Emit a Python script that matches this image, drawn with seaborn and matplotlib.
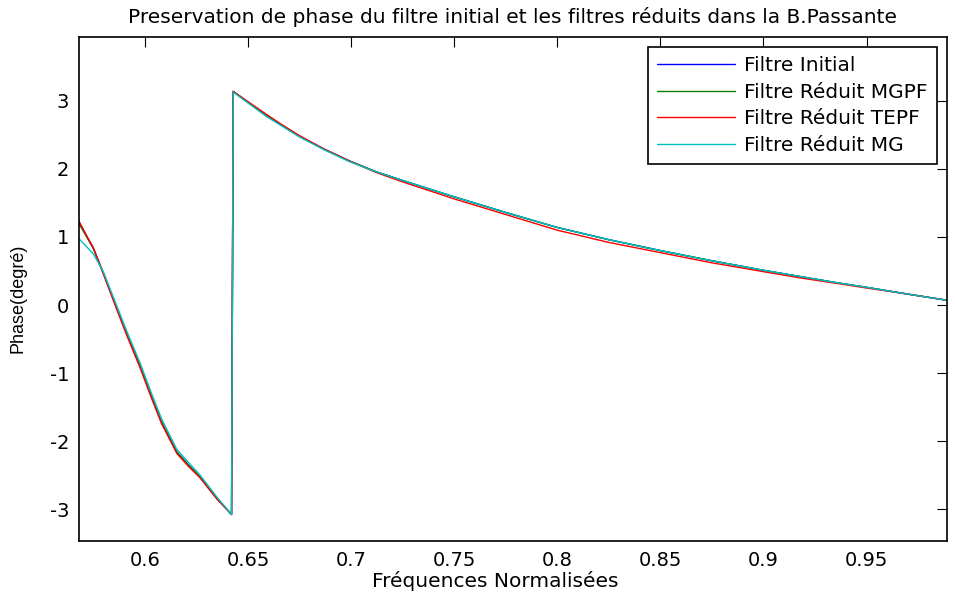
import matplotlib
matplotlib.use("Agg")
import matplotlib.pyplot as plt
import seaborn as sns
import pandas as pd

# ---- data ----
freq = [0.5675, 0.571, 0.575, 0.5798, 0.5855, 0.5911, 0.5976, 0.6032, 0.608, 0.6154,
        0.621, 0.6267, 0.6348, 0.642, 0.6428, 0.650, 0.659, 0.667, 0.675, 0.687,
        0.699, 0.712, 0.725, 0.75, 0.775, 0.80, 0.825, 0.85, 0.875, 0.90,
        0.9175, 0.935, 0.95, 0.97, 0.989]

phase_initial = [1.25, 1.05, 0.83, 0.47, 0.02, -0.42, -0.90, -1.35, -1.72, -2.16,
                 -2.35, -2.53, -2.84, -3.08, 3.14, 2.98, 2.79, 2.63, 2.48, 2.29,
                 2.12, 1.96, 1.83, 1.59, 1.36, 1.14, 0.96, 0.80, 0.65, 0.51,
                 0.42, 0.33, 0.26, 0.16, 0.07]

phase_mgpf = [1.22, 1.04, 0.83, 0.47, 0.02, -0.42, -0.90, -1.35, -1.72, -2.16,
              -2.35, -2.53, -2.84, -3.08, 3.14, 2.98, 2.79, 2.63, 2.48, 2.29,
              2.12, 1.96, 1.83, 1.59, 1.36, 1.14, 0.96, 0.80, 0.65, 0.51,
              0.42, 0.33, 0.26, 0.16, 0.07]

phase_tepf = [1.26, 1.06, 0.84, 0.46, 0.00, -0.44, -0.92, -1.37, -1.74, -2.18,
              -2.37, -2.54, -2.85, -3.08, 3.14, 2.99, 2.80, 2.64, 2.49, 2.29,
              2.12, 1.95, 1.81, 1.56, 1.33, 1.10, 0.92, 0.77, 0.62, 0.49,
              0.40, 0.32, 0.25, 0.16, 0.07]

phase_mg = [0.99, 0.88, 0.75, 0.49, 0.05, -0.38, -0.85, -1.30, -1.67, -2.12,
            -2.31, -2.50, -2.82, -3.08, 3.13, 2.97, 2.77, 2.62, 2.47, 2.28,
            2.11, 1.96, 1.83, 1.59, 1.36, 1.14, 0.96, 0.80, 0.65, 0.51,
            0.42, 0.33, 0.26, 0.16, 0.07]

labels = ["Filtre Initial", "Filtre Réduit MGPF", "Filtre Réduit TEPF", "Filtre Réduit MG"]
colors = ["#0000ff", "#008000", "#ff0000", "#00bfbf"]
xticks = [0.6, 0.65, 0.7, 0.75, 0.8, 0.85, 0.9, 0.95]
xtick_labels = ["0.6", "0.65", "0.7", "0.75", "0.8", "0.85", "0.9", "0.95"]
yticks = [-3, -2, -1, 0, 1, 2, 3]

sns.set_style("white")
plt.rcParams['font.family'] = ['DejaVu Sans']
plt.rcParams['axes.unicode_minus'] = False
plt.rcParams['text.color'] = 'black'
plt.rcParams['axes.labelcolor'] = 'black'
plt.rcParams['xtick.color'] = 'black'
plt.rcParams['ytick.color'] = 'black'

fig = plt.figure(figsize=(9.55, 5.99), dpi=100)
ax = fig.add_axes([0.0827, 0.0968, 0.9089, 0.8414])

series = [phase_initial, phase_mgpf, phase_tepf, phase_mg]
for vals, lab, col in zip(series, labels, colors):
    df = pd.DataFrame({"f": freq, "p": vals})
    sns.lineplot(data=df, x="f", y="p", ax=ax, color=col, label=lab,
                 linewidth=1.0, sort=False, estimator=None)

ax.set_xlim(0.568, 0.989)
ax.set_ylim(-3.47, 3.94)
ax.set_xticks(xticks)
ax.set_xticklabels(xtick_labels)
ax.set_yticks(yticks)
ax.tick_params(direction="in", length=7, width=0.8, top=True, right=True,
               labelsize=14, pad=7, colors="black")
for sp in ax.spines.values():
    sp.set_visible(True)
    sp.set_color("black")
    sp.set_linewidth(1.2)

ax.set_title("Preservation de phase du filtre initial et les filtres réduits dans la B.Passante",
             fontsize=14.5, pad=10, color="black")
ax.set_xlabel("Fréquences Normalisées", fontsize=14.5, color="black")
ax.xaxis.set_label_coords(0.479, -0.060)
ax.set_ylabel("Phase(degré)", fontsize=13, color="black",
              family=['Liberation Sans', 'DejaVu Sans'])
ax.yaxis.set_label_coords(-0.060, 0.482)

leg = ax.legend(loc="upper right", bbox_to_anchor=(1.0, 1.0), borderaxespad=0.5,
                fontsize=14.5, frameon=True, fancybox=False, edgecolor="black",
                framealpha=1, handlelength=3.9, borderpad=0.45, labelspacing=0.38,
                handletextpad=0.45)
leg.get_frame().set_linewidth(1.2)
for t in leg.get_texts():
    t.set_color("black")

fig.savefig("out.png", dpi=100)
